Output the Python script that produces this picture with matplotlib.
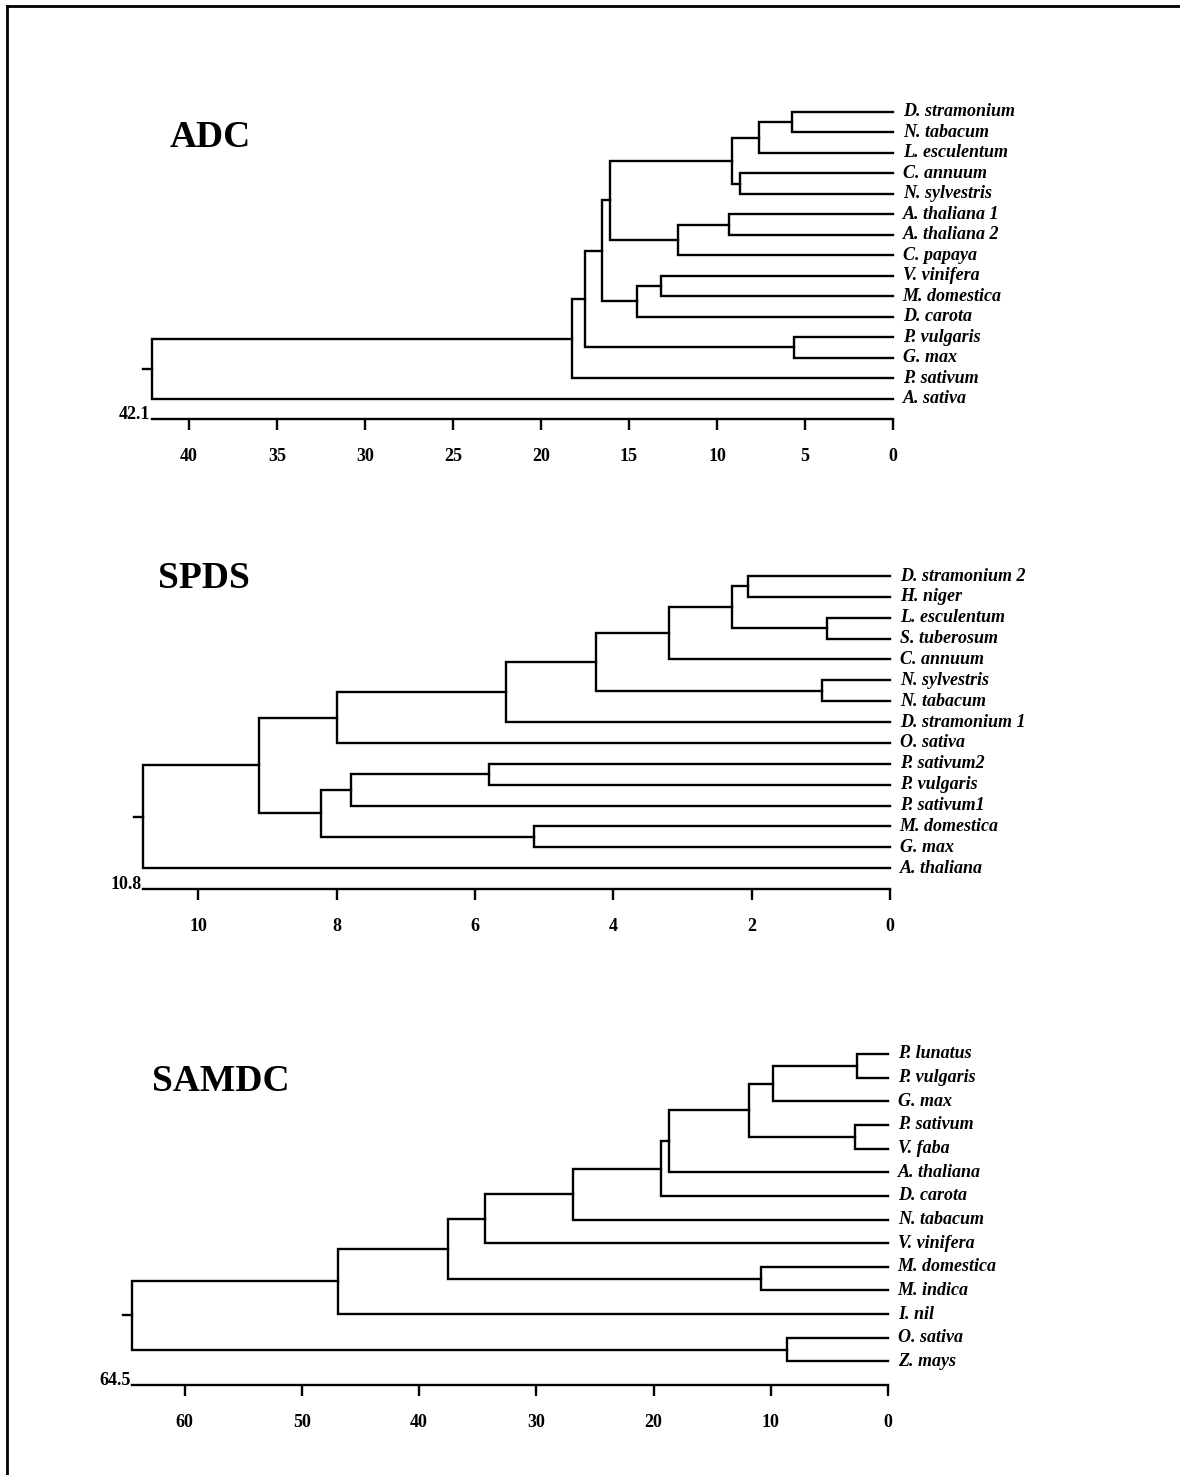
import matplotlib.pyplot as plt
from matplotlib.lines import Line2D

plt.rcParams['font.family'] = ['Liberation Serif', 'DejaVu Serif']
plt.rcParams['font.weight'] = 'bold'

# ---- data: leaves (top to bottom) and merges (left id, right id, height) ----
adc_leaves = ['D. stramonium', 'N. tabacum', 'L. esculentum', 'C. annuum', 'N. sylvestris',
              'A. thaliana 1', 'A. thaliana 2', 'C. papaya', 'V. vinifera', 'M. domestica',
              'D. carota', 'P. vulgaris', 'G. max', 'P. sativum', 'A. sativa']
adc_merges = [(0, 1, 5.73), (15, 2, 7.59), (3, 4, 8.67), (16, 17, 9.14), (5, 6, 9.33),
              (19, 7, 12.2), (18, 20, 16.1), (8, 9, 13.17), (22, 10, 14.57), (21, 23, 16.52),
              (11, 12, 5.62), (24, 25, 17.48), (26, 13, 18.26), (27, 14, 42.1)]
adc_ticks = [40, 35, 30, 25, 20, 15, 10, 5, 0]

spds_leaves = ['D. stramonium 2', 'H. niger', 'L. esculentum', 'S. tuberosum', 'C. annuum',
               'N. sylvestris', 'N. tabacum', 'D. stramonium 1', 'O. sativa', 'P. sativum2',
               'P. vulgaris', 'P. sativum1', 'M. domestica', 'G. max', 'A. thaliana']
spds_merges = [(0, 1, 2.06), (2, 3, 0.91), (15, 16, 2.28), (17, 4, 3.19), (5, 6, 0.98),
               (18, 19, 4.25), (20, 7, 5.55), (21, 8, 7.99), (9, 10, 5.80), (23, 11, 7.80),
               (12, 13, 5.15), (24, 25, 8.22), (22, 26, 9.13), (27, 14, 10.8)]
spds_ticks = [10, 8, 6, 4, 2, 0]

samdc_leaves = ['P. lunatus', 'P. vulgaris', 'G. max', 'P. sativum', 'V. faba', 'A. thaliana',
                'D. carota', 'N. tabacum', 'V. vinifera', 'M. domestica', 'M. indica', 'I. nil',
                'O. sativa', 'Z. mays']
samdc_merges = [(0, 1, 2.61), (14, 2, 9.81), (3, 4, 2.78), (15, 16, 11.89), (17, 5, 18.69),
                (18, 6, 19.4), (19, 7, 26.88), (20, 8, 34.4), (9, 10, 10.8), (21, 22, 37.5),
                (23, 11, 46.9), (12, 13, 8.58), (24, 25, 64.5)]
samdc_ticks = [60, 50, 40, 30, 20, 10, 0]

W, H = 1180, 1475
fig = plt.figure(figsize=(W / 100, H / 100), dpi=100)
lw = 1.7


def panel(box, leaves, merges, ticks, title, title_xy):
    x0, x1, y0, y1 = box
    n = len(leaves)
    ax = fig.add_axes([x0 / W, 1 - y1 / H, (x1 - x0) / W, (y1 - y0) / H])
    top = merges[-1][2]
    ax.set_xlim(top, 0)
    ax.set_ylim(n, 0)
    pos = {i: (float(i), 0.0) for i in range(n)}
    for k, (a, b, h) in enumerate(merges):
        ya, ha = pos[a]
        yb, hb = pos[b]
        ax.plot([ha, h, h, hb], [ya, ya, yb, yb], color='black', lw=lw,
                clip_on=False, solid_joinstyle='miter')
        pos[n + k] = ((ya + yb) / 2, h)
    ry, rh = pos[n + len(merges) - 1]
    ax.plot([rh, rh * 1.012], [ry, ry], color='black', lw=lw, clip_on=False)

    for i, name in enumerate(leaves):
        ax.annotate(name, (0, i), xytext=(7, 0), textcoords='offset points',
                    va='center', ha='left', fontsize=13, style='italic',
                    annotation_clip=False)
    ax.annotate(f'{top}', (top, n), xytext=(-1, 0), textcoords='offset points',
                ha='right', va='baseline', fontsize=13, annotation_clip=False)

    for s in ['left', 'top', 'right']:
        ax.spines[s].set_visible(False)
    ax.spines['bottom'].set_linewidth(lw)
    ax.set_yticks([])
    ax.set_xticks(ticks)
    ax.tick_params(axis='x', direction='out', length=8, width=lw, pad=13, labelsize=13)
    fig.text(title_xy[0] / W, 1 - title_xy[1] / H, title, fontsize=27,
             fontweight='bold', ha='left', va='baseline')


panel((152, 893, 112, 419), adc_leaves, adc_merges, adc_ticks, 'ADC', (170, 147))
panel((143, 890, 576, 889), spds_leaves, spds_merges, spds_ticks, 'SPDS', (158, 588))
panel((132, 888, 1054, 1385), samdc_leaves, samdc_merges, samdc_ticks, 'SAMDC', (152, 1091))

# page frame (top and left edges only)
fig.add_artist(Line2D([7 / W, 1], [1 - 6 / H, 1 - 6 / H], color='black', lw=2,
                      transform=fig.transFigure))
fig.add_artist(Line2D([7 / W, 7 / W], [1 - 6 / H, 0], color='black', lw=2,
                      transform=fig.transFigure))

fig.savefig('out.png', dpi=100, facecolor='white')
